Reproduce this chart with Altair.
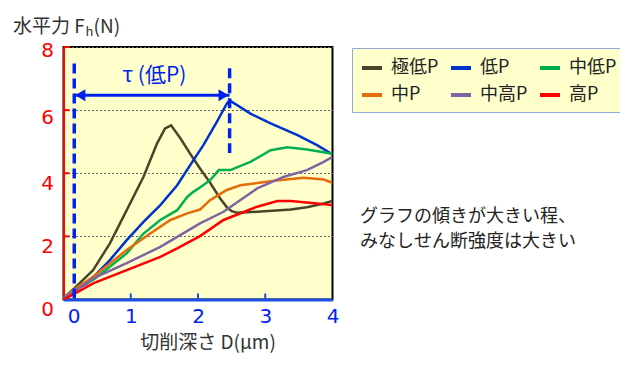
import altair as alt
import pandas as pd

# ---------------- data ----------------
series = ["極低P", "低P", "中低P", "中P", "中高P", "高P"]
colors = ["#4A452A", "#0033CC", "#00B050", "#E46C0A", "#8064A2", "#FF0000"]

x_gokutei = [0, 0.16, 0.44, 0.69, 0.94, 1.19, 1.39, 1.51, 1.60, 1.74, 1.89, 2.03, 2.18, 2.33, 2.43, 2.50, 2.58, 2.88, 3.38, 3.62, 3.87, 4.0]
y_gokutei = [0.05, 0.35, 0.93, 1.78, 2.83, 3.89, 4.94, 5.42, 5.52, 5.10, 4.60, 4.15, 3.70, 3.20, 2.92, 2.80, 2.75, 2.78, 2.85, 2.92, 3.04, 3.12]

x_tei = [0, 0.16, 0.35, 0.69, 0.94, 1.19, 1.44, 1.69, 1.93, 2.08, 2.28, 2.43, 2.47, 2.78, 3.08, 3.48, 3.77, 4.0]
y_tei = [0.05, 0.30, 0.51, 1.25, 1.88, 2.46, 2.99, 3.62, 4.41, 4.89, 5.63, 6.21, 6.31, 5.89, 5.58, 5.21, 4.89, 4.60]

x_chutei = [0, 0.16, 0.44, 0.94, 1.19, 1.44, 1.69, 1.84, 1.93, 2.03, 2.18, 2.31, 2.48, 2.78, 3.08, 3.33, 3.62, 4.0]
y_chutei = [0.05, 0.32, 0.62, 1.46, 2.09, 2.52, 2.83, 3.25, 3.41, 3.55, 3.78, 4.10, 4.10, 4.36, 4.73, 4.82, 4.75, 4.62]

x_chu = [0, 0.16, 0.44, 0.94, 1.29, 1.59, 1.84, 2.03, 2.18, 2.43, 2.63, 3.13, 3.57, 3.87, 4.0]
y_chu = [0.05, 0.32, 0.72, 1.57, 2.09, 2.52, 2.73, 2.85, 3.15, 3.47, 3.62, 3.76, 3.86, 3.80, 3.70]

x_chuko = [0, 0.16, 0.44, 0.94, 1.44, 2.03, 2.38, 2.88, 3.28, 3.62, 3.87, 4.0]
y_chuko = [0.05, 0.25, 0.67, 1.15, 1.67, 2.41, 2.78, 3.52, 3.89, 4.10, 4.36, 4.52]

x_ko = [0, 0.16, 0.44, 0.94, 1.44, 1.69, 2.03, 2.38, 2.88, 3.18, 3.38, 3.77, 4.0]
y_ko = [0.0, 0.18, 0.51, 0.93, 1.35, 1.62, 2.01, 2.52, 2.94, 3.12, 3.12, 3.04, 2.99]

x_ticks = [0, 1, 2, 3, 4]
y_ticks = [0, 2, 4, 6, 8]

tau_start = 0.16
tau_end = 2.47
guide_x = [tau_start, tau_end]
guide_top = [7.48, 7.33]
guide_bottom = [0.0, 4.64]
arrow_y = 6.47
tau_label = ["τ (低P)"]
tau_label_pos = [1.35, 7.08]

note_lines = ["グラフの傾きが大きい程、", "みなしせん断強度は大きい"]
x_title = "切削深さ D(μm)"
y_title_parts = ["水平力 F", "h", "(N)"]

# ---------------- build ----------------
rows = []
for name, xs, ys in zip(series,
                        [x_gokutei, x_tei, x_chutei, x_chu, x_chuko, x_ko],
                        [y_gokutei, y_tei, y_chutei, y_chu, y_chuko, y_ko]):
    for i, (xv, yv) in enumerate(zip(xs, ys)):
        rows.append({"series": name, "D": xv, "F": yv, "order": i})
df = pd.DataFrame(rows)

W, H = 269, 252.5
BLUE = "#0022EE"
AXIS_BLUE = "#1F4FE0"
RED = "#FF0000"
JP = "Noto Sans CJK JP"
NUM = "DejaVu Sans"

xscale = alt.Scale(domain=[0, 4], nice=False, zero=False)
yscale = alt.Scale(domain=[0, 8], nice=False)

x_axis = alt.Axis(
    values=x_ticks, ticks=False, grid=False, format="d", labelFlush=False,
    labelColor=BLUE, labelFont=NUM, labelFontSize=20, labelPadding=7,
    labelOffset={"condition": {"test": "datum.value === 0", "value": 10}, "value": 0},
    domainColor=AXIS_BLUE, domainWidth=3,
    title=x_title, titleFont=JP, titleFontSize=19, titleFontWeight="normal",
    titleColor="#333333", titleX=144, titleY=43, titleBaseline="middle", titleAlign="center",
)
y_axis = alt.Axis(
    values=y_ticks, ticks=False, format="d", labelFlush=False,
    labelColor=RED, labelFont=NUM, labelFontSize=20, labelPadding=10,
    labelOffset={"condition": [{"test": "datum.value === 8", "value": 3},
                               {"test": "datum.value === 6", "value": 7}], "value": 10},
    domainColor=RED, domainWidth=2,
    grid=True, gridColor="#666666", gridDash=[2, 2], gridWidth=1,
    title=None,
)


def X(field):
    return alt.X(field, scale=xscale, axis=x_axis)


def Y(field):
    return alt.Y(field, scale=yscale, axis=y_axis)


lines = alt.Chart(df).mark_line(strokeWidth=2.5, clip=True).encode(
    x=X("D:Q"),
    y=Y("F:Q"),
    color=alt.Color(
        "series:N", sort=series,
        scale=alt.Scale(domain=series, range=colors),
        legend=alt.Legend(
            title=None, orient="none", legendX=288.5, legendY=1, columns=3,
            direction="horizontal",
            fillColor="#FFFFCC", strokeColor="#8EA9DB", padding=8,
            labelFont=JP, labelFontSize=18, labelColor="#222222", labelLimit=200,
            labelOffset=7, symbolType="stroke", symbolSize=400, symbolStrokeWidth=4,
            columnPadding=4, rowPadding=6,
        ),
    ),
    order="order:Q",
)

xt = alt.Chart(pd.DataFrame({"v": x_ticks[1:4]})).mark_rule(color=AXIS_BLUE, strokeWidth=2).encode(
    x=X("v:Q"), y=alt.value(H), y2=alt.value(H - 6)
)
yt = alt.Chart(pd.DataFrame({"v": y_ticks[1:]})).mark_rule(color=RED, strokeWidth=2).encode(
    y=Y("v:Q"), x=alt.value(0), x2=alt.value(6)
)

guides = alt.Chart(pd.DataFrame({"x": guide_x, "y": guide_top, "y2": guide_bottom})).mark_rule(
    color=BLUE, strokeWidth=3.5, strokeDash=[10, 5]
).encode(x=X("x:Q"), y=Y("y:Q"), y2="y2:Q")

arrow_df = pd.DataFrame({"x": [tau_start], "x2": [tau_end], "y": [arrow_y]})
arrow = alt.Chart(arrow_df).mark_rule(color=BLUE, strokeWidth=3).encode(
    x=X("x:Q"), x2="x2:Q", y=Y("y:Q")
)
head_l = alt.Chart(pd.DataFrame({"x": [tau_start], "y": [arrow_y]})).mark_point(
    shape="triangle-left", filled=True, size=140, color=BLUE, opacity=1, xOffset=6
).encode(x=X("x:Q"), y=Y("y:Q"))
head_r = alt.Chart(pd.DataFrame({"x": [tau_end], "y": [arrow_y]})).mark_point(
    shape="triangle-right", filled=True, size=140, color=BLUE, opacity=1, xOffset=-6
).encode(x=X("x:Q"), y=Y("y:Q"))

tau = alt.Chart(pd.DataFrame({"t": tau_label, "x": [tau_label_pos[0]], "y": [tau_label_pos[1]]})).mark_text(
    font=JP, fontSize=21, color=BLUE, align="center", baseline="middle"
).encode(x=X("x:Q"), y=Y("y:Q"), text="t:N")

notes = alt.Chart(pd.DataFrame({"t": note_lines, "yy": [170, 195]})).mark_text(
    font=JP, fontSize=18, color="#222222", align="left", baseline="middle"
).encode(x=alt.value(296.5), y=alt.Y("yy:Q", scale=None, axis=None), text="t:N")

yt_main = alt.Chart(pd.DataFrame({"t": [y_title_parts[0]]})).mark_text(
    font=JP, fontSize=19, color="#333333", align="left", baseline="middle"
).encode(x=alt.value(-50.5), y=alt.value(-20), text="t:N")
yt_sub = alt.Chart(pd.DataFrame({"t": [y_title_parts[1]]})).mark_text(
    font=JP, fontSize=13, color="#333333", align="left", baseline="middle"
).encode(x=alt.value(22), y=alt.value(-15), text="t:N")
yt_tail = alt.Chart(pd.DataFrame({"t": [y_title_parts[2]]})).mark_text(
    font=JP, fontSize=19, color="#333333", align="left", baseline="middle"
).encode(x=alt.value(30), y=alt.value(-20), text="t:N")

chart = alt.layer(
    lines, xt, yt, guides, arrow, head_l, head_r, tau, notes, yt_main, yt_sub, yt_tail
).properties(
    width=W, height=H,
    autosize=alt.AutoSizeParams(type="none"),
    padding={"left": 55.5, "top": 39, "right": 287, "bottom": 60},
    background="white",
).configure_view(
    fill="#FFFFCC", stroke="black", strokeWidth=2
)

chart.save("out.html", embed_options={"renderer": "svg", "actions": False})
